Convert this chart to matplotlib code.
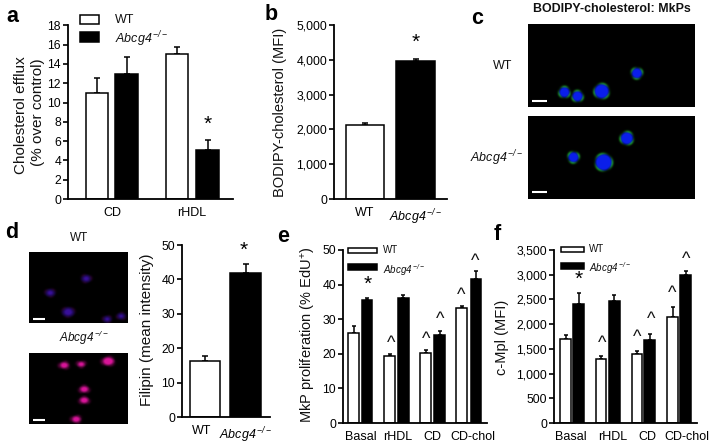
import numpy as np
import matplotlib
matplotlib.use('Agg')
import matplotlib.pyplot as plt
from matplotlib.patches import Rectangle

plt.rcParams['font.family'] = ['Liberation Sans', 'DejaVu Sans']
plt.rcParams['mathtext.fontset'] = 'custom'
plt.rcParams['mathtext.rm'] = 'Liberation Sans'
plt.rcParams['mathtext.it'] = 'Liberation Sans:italic'
plt.rcParams['mathtext.cal'] = 'Liberation Sans:italic'
plt.rcParams['mathtext.default'] = 'regular'
plt.rcParams['text.color'] = '#111111'

W, H = 714, 445
KO = r'$\mathcal{Abcg4}^{\,\mathcal{-/-}}$'

# Panel a
a_groups = ['CD', 'rHDL']
a_wt = [11, 15]
a_wt_top = [12.5, 15.8]
a_ko = [13, 5.1]
a_ko_top = [14.7, 6.1]
a_ticks = [0, 2, 4, 6, 8, 10, 12, 14, 16, 18]

# Panel b
b_labels = ['WT', KO]
b_vals = [2120, 3960]
b_tops = [2170, 4030]
b_ticks = [0, 1000, 2000, 3000, 4000, 5000]

# Panel d
d_labels = ['WT', KO]
d_vals = [16.2, 42]
d_tops = [17.8, 44.4]
d_ticks = [0, 10, 20, 30, 40, 50]

# Panel e
e_groups = ['Basal', 'rHDL', 'CD', 'CD-chol']
e_wt = [26, 19.4, 20.3, 33.2]
e_wt_top = [28, 19.9, 21, 33.7]
e_ko = [35.5, 36, 25.5, 41.7]
e_ko_top = [36.2, 36.9, 26.7, 43.8]
e_ticks = [0, 10, 20, 30, 40, 50]

# Panel f
f_groups = ['Basal', 'rHDL', 'CD', 'CD-chol']
f_wt = [1690, 1300, 1400, 2140]
f_wt_top = [1790, 1360, 1460, 2350]
f_ko = [2410, 2470, 1670, 2990]
f_ko_top = [2620, 2580, 1800, 3070]
f_ticks = [0, 500, 1000, 1500, 2000, 2500, 3000, 3500]

# Cells in the micrographs: x, y, radius in image pixels
c_top_cells = [(36, 68, 5), (49, 72, 5), (73, 67, 7), (108, 49, 5)]
c_bot_cells = [(45, 41, 5), (75, 46, 8), (98, 22, 6)]
d_top_cells = [(57, 27, 3), (21, 41, 3), (39, 60, 4), (78, 67, 2.5), (92, 64, 2.5)]
d_bot_cells = [(35, 12, 3), (52, 11, 2.5), (79, 8, 4), (55, 36, 3), (55, 47, 3), (47, 66, 3)]


def px_axes(left, top, right, bottom):
    return fig.add_axes([left / W, 1 - bottom / H, (right - left) / W, (bottom - top) / H])


def bar_axes(left, top, right, bottom, ymax, ticks, fmt=False):
    # x axis is in figure pixels so bars can be placed by their centres
    ax = px_axes(left, top, right, bottom)
    ax.set_xlim(left, right)
    ax.set_ylim(0, ymax)
    ax.patch.set_alpha(0)
    ax.spines['top'].set_visible(False)
    ax.spines['right'].set_visible(False)
    ax.spines['left'].set_linewidth(1.3)
    ax.spines['bottom'].set_linewidth(1.3)
    ax.set_yticks(ticks)
    if fmt:
        ax.set_yticklabels([f'{t:,}' for t in ticks])
    ax.tick_params(axis='y', length=3.5, width=1.2, labelsize=8.8, pad=1.5)
    ax.tick_params(axis='x', length=0, pad=6)
    return ax


def bars(ax, xs, vals, tops, color, width):
    vals = np.array(vals)
    tops = np.array(tops)
    ax.bar(xs, vals, width=width, color=color, edgecolor='black', linewidth=1.1, zorder=2)
    ax.errorbar(xs, vals, yerr=[np.zeros(len(vals)), tops - vals], fmt='none',
                ecolor='black', elinewidth=1.1, capsize=min(width * 0.13, 2.5), capthick=1.1, zorder=1)


def micrograph(left, top, right, bottom, cells, core, rim, stretch, soft, bar_len, bar_y):
    w, h = right - left, bottom - top
    ax = px_axes(left, top, right, bottom)
    yy, xx = np.mgrid[0:h * 2, 0:w * 2] / 2.0
    img = np.zeros((h * 2, w * 2, 3))
    for x, y, r in cells:
        d = np.hypot((xx - x) / stretch, yy - y)
        ang = np.arctan2(yy - y, xx - x)
        fill = np.clip((r - d) / soft + 0.5, 0, 1)
        ring = np.exp(-((d - r) / 1.6) ** 2) * (0.6 + 0.4 * np.cos(3 * ang + x))
        for i in range(3):
            img[..., i] = np.maximum(img[..., i], fill * core[i])
            img[..., i] = np.maximum(img[..., i], ring * rim[i] * (1 - fill))
    ax.imshow(img, extent=(0, w, h, 0), aspect='auto', interpolation='bilinear')
    ax.plot([4, 4 + bar_len], [bar_y, bar_y], color='white', lw=1.5, solid_capstyle='butt')
    ax.set_xlim(0, w)
    ax.set_ylim(h, 0)
    ax.axis('off')


fig = plt.figure(figsize=(W / 100, H / 100), dpi=100)

# a
ax = bar_axes(68, 25.3, 233, 199, 18, a_ticks)
bars(ax, [97, 177], a_wt, a_wt_top, 'white', 22)
bars(ax, [126.5, 207.5], a_ko, a_ko_top, 'black', 23)
ax.set_xticks([112, 192])
ax.set_xticklabels(a_groups, fontsize=9)

# b
ax = bar_axes(334, 25, 447, 199, 5000, b_ticks, fmt=True)
bars(ax, [365], b_vals[:1], b_tops[:1], 'white', 38)
bars(ax, [415.5], b_vals[1:], b_tops[1:], 'black', 39)
ax.set_xticks([365, 415.5])
ax.set_xticklabels(b_labels, fontsize=9)

# d
ax = bar_axes(182, 245, 270, 417, 50, d_ticks)
bars(ax, [205], d_vals[:1], d_tops[:1], 'white', 30)
bars(ax, [245.5], d_vals[1:], d_tops[1:], 'black', 31)
ax.set_xticks([202, 245.5])
ax.set_xticklabels(d_labels, fontsize=9)

# e
ax = bar_axes(343, 250, 487, 423, 50, e_ticks)
bars(ax, 353.5 + 36 * np.arange(4), e_wt, e_wt_top, 'white', 10.5)
bars(ax, 367 + 36.3 * np.arange(4), e_ko, e_ko_top, 'black', 10.5)
ax.set_xticks([361, 398, 432, 473])
ax.set_xticklabels(e_groups, fontsize=9)

# f
ax = bar_axes(554, 250, 697, 423, 3500, f_ticks, fmt=True)
bars(ax, 565.5 + 35.7 * np.arange(4), f_wt, f_wt_top, 'white', 10.5)
bars(ax, 578.5 + 35.7 * np.arange(4), f_ko, f_ko_top, 'black', 11)
ax.set_xticks([571, 613, 647, 687])
ax.set_xticklabels(f_groups, fontsize=9)

# micrographs
blue = (0.04, 0.12, 0.92)
micrograph(528, 24, 694, 107, c_top_cells, blue, (0.15, 0.75, 0.2), 1, 2.5, 15, 77)
micrograph(528, 116, 694, 199, c_bot_cells, blue, (0.15, 0.8, 0.2), 1, 2.5, 15, 76)
micrograph(29, 252, 128, 323, d_top_cells, (0.22, 0.06, 0.6), (0.25, 0, 0.3), 1.3, 4, 12, 67)
micrograph(29, 353, 128, 424, d_bot_cells, (0.85, 0.08, 0.6), (0.45, 0, 0.3), 1.4, 3, 12, 67)

# everything else is placed in pixel coordinates on a clear overlay
ov = fig.add_axes([0, 0, 1, 1])
ov.set_xlim(0, W)
ov.set_ylim(H, 0)
ov.axis('off')

for letter, x, y in [('a', 6, 16), ('b', 265, 15), ('c', 471, 19),
                     ('d', 5, 233), ('e', 277, 236), ('f', 494, 234)]:
    ov.text(x, y, letter, fontsize=15.5, fontweight='bold', color='black', va='center', ha='left')

ov.text(21, 115, 'Cholesterol efflux', rotation=90, fontsize=11, ha='center', va='center')
ov.text(38, 112, '(% over control)', rotation=90, fontsize=11, ha='center', va='center')
ov.text(280, 112, 'BODIPY-cholesterol (MFI)', rotation=90, fontsize=10.5, ha='center', va='center')
ov.text(147, 330, 'Filipin (mean intensity)', rotation=90, fontsize=11, ha='center', va='center')
ov.text(309, 335, r'MkP proliferation (% EdU$^{+}$)', rotation=90, fontsize=10.5, ha='center', va='center')
ov.text(502, 337, 'c-Mpl (MFI)', rotation=90, fontsize=10.5, ha='center', va='center')

ov.text(612, 9, 'BODIPY-cholesterol: MkPs', fontsize=8.9, fontweight='bold', ha='center', va='center')
ov.text(503, 66, 'WT', fontsize=9, ha='center', va='center')
ov.text(470, 158, KO, fontsize=9, ha='left', va='center')
ov.text(79, 238, 'WT', fontsize=8.5, ha='center', va='center')
ov.text(84, 338, KO, fontsize=8.5, ha='center', va='center')

# legends
for x0, x1, y0, y1, y2, y3, tx, ty1, ty2, fs in [
        (80, 99, 15, 24, 32, 42, 115, 20, 39, 9),
        (348, 377, 248, 253, 264, 270, 383, 250, 270, 7),
        (561, 584, 247, 252, 263, 269, 589, 249, 268, 7)]:
    ov.add_patch(Rectangle((x0, y0), x1 - x0, y1 - y0, fc='white', ec='black', lw=1.1))
    ov.add_patch(Rectangle((x0, y2), x1 - x0, y3 - y2, fc='black', ec='black', lw=1.1))
    ov.text(tx, ty1, 'WT', fontsize=fs, ha='left', va='center')
    ov.text(tx, ty2, KO, fontsize=fs, ha='left', va='center')

# significance marks
for x, y in [(208, 124), (416, 42), (244, 250), (368, 284), (579, 279)]:
    ov.text(x, y, '*', fontsize=15, ha='center', va='center', color='black')
for x, y in [(391, 343), (426, 340), (440, 320), (461, 296), (475, 262),
             (602, 344), (637, 338), (651, 319), (672, 294), (686, 259)]:
    ov.text(x, y, '^', fontsize=13, ha='center', va='center')

fig.savefig('out.png', dpi=100)
